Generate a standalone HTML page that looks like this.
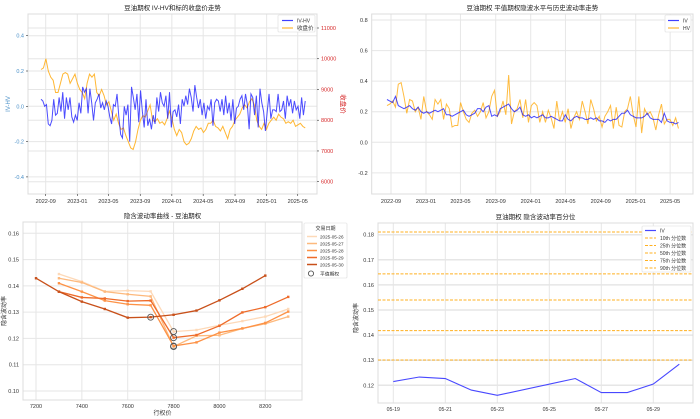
<!DOCTYPE html>
<html><head><meta charset="utf-8">
<style>
html,body{margin:0;padding:0;background:#fff;}
svg{display:block;font-family:"Liberation Sans","Noto Sans CJK SC",sans-serif;}
</style></head>
<body>
<svg id="chart" width="700" height="419" viewBox="0 0 700 419"></svg>
<script>
// ---------- Panel 1 data ----------
const p1Start = [2022, 8, 14];
const p1End = [2025, 5, 30];
const ivhv = [0.04,0.03,0.0,0.01,-0.1,-0.11,-0.08,0.04,-0.05,-0.04,0.05,-0.03,0.08,-0.07,0.05,-0.02,0.05,-0.06,-0.09,-0.05,-0.08,0.02,-0.04,0.11,0.08,0.1,-0.04,0.1,0.02,-0.08,0.02,0.04,0.07,-0.01,0.02,-0.02,0.03,0.0,-0.06,-0.1,0.01,0.0,0.07,-0.06,-0.16,-0.18,0.0,-0.05,0.01,-0.2,0.11,0.05,-0.02,0.07,-0.09,0.09,-0.03,-0.12,0.04,-0.11,-0.07,-0.13,-0.05,-0.1,0.05,-0.03,0.08,0.02,0.0,0.06,-0.07,0.08,-0.12,-0.03,-0.02,-0.06,0.01,-0.1,0.04,0.0,0.06,0.01,0.1,0.05,-0.03,0.12,0.05,-0.01,0.04,-0.05,0.02,-0.07,0.0,-0.02,0.04,-0.11,0.02,0.04,0.03,-0.03,0.04,-0.05,0.06,-0.04,0.02,-0.08,0.04,-0.1,-0.01,0.0,0.04,0.06,-0.02,0.07,0.01,-0.13,0.07,0.05,-0.05,0.06,-0.12,0.1,0.02,-0.03,-0.14,-0.03,0.07,-0.07,-0.02,-0.02,-0.03,0.07,-0.03,-0.02,0.03,-0.07,0.06,0.0,0.04,-0.04,0.03,-0.02,0.0,-0.07,0.05,-0.05,0.03];
const closePrice = [9650,9700,10000,9600,9400,9300,8900,8900,9200,9500,9550,9500,9200,9350,9500,9200,9000,8900,8700,9200,9500,9400,9500,8900,8800,9000,8800,8500,8600,8300,8000,8200,7900,7700,7750,7500,7300,7100,7050,7300,7700,8000,8150,8100,8300,8500,8000,7950,8050,7900,7950,7850,8050,8300,8050,7700,7500,7700,7600,7300,7200,7250,7400,7650,7800,7700,7750,7600,7700,7900,7900,8000,7800,7750,7650,7800,7600,7400,7700,7800,8000,8100,8200,8400,8500,8400,8600,8700,8500,8000,7800,7700,7900,7700,7900,8000,8100,8000,8200,8100,8050,7900,7950,7900,8000,7800,7850,7900,7800,7750];
const p1LeftTicks = [-0.4,-0.2,0.0,0.2,0.4];
const p1RightTicks = [6000,7000,8000,9000,10000,11000];
const dateTicks = ["2022-09","2023-01","2023-05","2023-09","2024-01","2024-05","2024-09","2025-01","2025-05"];

// ---------- Panel 2 data ----------
const ivSeries = [0.28,0.27,0.26,0.30,0.24,0.23,0.22,0.23,0.24,0.22,0.21,0.23,0.2,0.19,0.2,0.19,0.2,0.21,0.2,0.21,0.22,0.18,0.18,0.17,0.18,0.19,0.2,0.21,0.18,0.17,0.18,0.19,0.22,0.22,0.2,0.23,0.24,0.17,0.18,0.17,0.22,0.23,0.24,0.25,0.22,0.2,0.21,0.23,0.18,0.17,0.18,0.16,0.17,0.16,0.17,0.18,0.16,0.16,0.17,0.16,0.15,0.14,0.14,0.18,0.15,0.14,0.16,0.17,0.16,0.16,0.15,0.15,0.16,0.15,0.16,0.14,0.14,0.13,0.15,0.14,0.15,0.15,0.17,0.19,0.19,0.21,0.18,0.17,0.16,0.16,0.16,0.17,0.19,0.16,0.15,0.15,0.15,0.13,0.19,0.14,0.13,0.13,0.12,0.13];
const hvSeries = [0.24,0.25,0.27,0.23,0.38,0.39,0.3,0.19,0.28,0.27,0.2,0.23,0.15,0.3,0.2,0.18,0.15,0.28,0.25,0.28,0.15,0.25,0.22,0.1,0.11,0.11,0.26,0.2,0.15,0.13,0.19,0.21,0.17,0.2,0.26,0.16,0.2,0.3,0.34,0.17,0.2,0.27,0.18,0.44,0.12,0.2,0.22,0.28,0.16,0.28,0.13,0.24,0.26,0.24,0.13,0.2,0.13,0.21,0.16,0.09,0.27,0.14,0.2,0.13,0.22,0.09,0.16,0.2,0.15,0.27,0.2,0.12,0.28,0.22,0.14,0.17,0.1,0.17,0.2,0.24,0.09,0.23,0.11,0.1,0.2,0.22,0.3,0.18,0.1,0.3,0.06,0.22,0.18,0.2,0.16,0.08,0.18,0.25,0.12,0.15,0.15,0.11,0.16,0.09];
const p2Ticks = [-0.2,0.0,0.2,0.4,0.6,0.8];

// ---------- Panel 3 data ----------
const strikes = [7200,7300,7400,7500,7600,7700,7800,7900,8000,8100,8200,8300];
const smileDates = ["2025-05-26","2025-05-27","2025-05-28","2025-05-29","2025-05-30"];
const smile0526 = [null,0.1445,0.1416,0.1379,0.1382,0.1379,0.1226,0.1232,0.125,0.1266,0.1283,0.1312];
const smile0527 = [null,0.1429,0.1413,0.1378,0.1368,0.136,0.1169,0.121,0.1212,0.1238,0.1256,0.1283];
const smile0528 = [null,0.141,0.1378,0.1344,0.133,0.1326,0.1171,0.1185,0.1222,0.1238,0.1259,0.1302];
const smile0529 = [null,0.1378,0.1356,0.1352,0.1342,0.1344,0.1203,0.1213,0.1248,0.1299,0.1319,0.1358];
const smile0530 = [0.1429,0.1378,0.134,0.1312,0.1279,0.1281,0.129,0.1306,0.1345,0.1389,0.1439,null];
const atmStrikes = [7800,7800,7800,7800,7700];
const atmIV = [0.1226,0.1169,0.1171,0.1203,0.1281];
const p3YTicks = [0.10,0.11,0.12,0.13,0.14,0.15,0.16];
const p3XTicks = [7200,7400,7600,7800,8000,8200];

// ---------- Panel 4 data ----------
const ivDays = [19,20,21,22,23,26,27,28,29,30];
const ivValues = [0.1215,0.1233,0.1227,0.1181,0.116,0.1227,0.1171,0.1171,0.1205,0.1284];
const pctLabels = ["10th","25th","50th","75th","90th"];
const pctValues = [0.1301,0.1418,0.154,0.1644,0.1811];
const p4YTicks = [0.12,0.13,0.14,0.15,0.16,0.17,0.18];
const p4XTicks = [19,21,23,25,27,29];

const NS = "http://www.w3.org/2000/svg";
const svg = document.getElementById("chart");
function mk(tag, attrs, parent) {
  const e = document.createElementNS(NS, tag);
  for (const k in attrs) e.setAttribute(k, attrs[k]);
  (parent || svg).appendChild(e);
  return e;
}
function txt(s, x, y, size, fill, anchor, parent, extra) {
  const t = mk("text", Object.assign({x: x, y: y, "font-size": size, fill: fill, "text-anchor": anchor}, extra || {}), parent);
  t.textContent = s;
  return t;
}
function lin(d0, d1, r0, r1) { return v => r0 + (v - d0) / (d1 - d0) * (r1 - r0); }
function day(y, m, d) { return Date.UTC(y, m - 1, d) / 86400000; }
function pathFrom(xs, ys) {
  let d = ""; let pen = false;
  for (let i = 0; i < xs.length; i++) {
    if (ys[i] === null || ys[i] === undefined) { pen = false; continue; }
    d += (pen ? "L" : "M") + xs[i].toFixed(2) + "," + ys[i].toFixed(2);
    pen = true;
  }
  return d;
}
const GRID = "#e6e6e6", FRAME = "#dcdcdc", TICKC = "#333";

function frame(g, x0, y0, x1, y1) {
  const r = mk("rect", {x: x0, y: y0, width: x1 - x0, height: y1 - y0, fill: "none", stroke: FRAME, "stroke-width": 1}, g);
  
  
}
function hgrid(g, ys, x0, x1, w) {
  ys.forEach(y => {
    const l = mk("line", {x1: x0, x2: x1, y1: y, y2: y, stroke: GRID, "stroke-width": w || 1}, g);
    
    
  });
}
function vgrid(g, xs, y0, y1) {
  xs.forEach(x => {
    const l = mk("line", {x1: x, x2: x, y1: y0, y2: y1, stroke: GRID, "stroke-width": 1}, g);
    
    
  });
}
function dateX(label, sx) { const p = label.split("-"); return sx(day(+p[0], +p[1], 1)); }

// ================= PANEL 1 =================
(function () {
  const g = mk("g", {});
  
  
  const X0 = 28, X1 = 317, Y0 = 14, Y1 = 194;
  const sx = lin(day(2022, 9, 1), day(2023, 1, 1), 45.7, 77.3);
  const sy = lin(0, 0.4, 106.3, 35.7);
  const sr = lin(6000, 11000, 181.7, 28);
  hgrid(g, p1LeftTicks.map(sy), X0, X1);
  hgrid(g, p1RightTicks.map(sr), X0, X1);
  vgrid(g, dateTicks.map(l => dateX(l, sx)), Y0, Y1);
  frame(g, X0, Y0, X1, Y1);
  const t = txt("豆油期权 IV-HV和标的收盘价走势", (X0 + X1) / 2, 10, 6.5, "#222", "middle", g);
   
  const d0 = day(...p1Start), d1 = day(...p1End);
  const xsA = ivhv.map((v, i) => sx(d0 + (d1 - d0) * i / (ivhv.length - 1)));
  const xsB = closePrice.map((v, i) => sx(d0 + (d1 - d0) * i / (closePrice.length - 1)));
  const pr = mk("path", {d: pathFrom(xsB, closePrice.map(sr)), fill: "none", stroke: "#ffa500", "stroke-opacity": 0.8, "stroke-width": 1}, g);
   
  const iv = mk("path", {d: pathFrom(xsA, ivhv.map(sy)), fill: "none", stroke: "#0000ff", "stroke-opacity": 0.7, "stroke-width": 1}, g);
   
  p1LeftTicks.forEach(v => {
    const y = sy(v);
    mk("line", {x1: X0 - 2, x2: X0, y1: y, y2: y, stroke: TICKC, "stroke-width": 0.6}, g);
    const l = txt(v.toFixed(1), X0 - 4, y + 2, 5.5, "#4a90c8", "end", g);
     
  });
  p1RightTicks.forEach(v => {
    const y = sr(v);
    mk("line", {x1: X1, x2: X1 + 2, y1: y, y2: y, stroke: TICKC, "stroke-width": 0.6}, g);
    const l = txt(String(v), X1 + 4, y + 2, 5.5, "#d62728", "start", g);
     
  });
  dateTicks.forEach(s => {
    const x = dateX(s, sx);
    mk("line", {x1: x, x2: x, y1: Y1, y2: Y1 + 2, stroke: TICKC, "stroke-width": 0.6}, g);
    const l = txt(s, x, Y1 + 9, 5.5, "#333", "middle", g);
     
  });
  const yl = txt("IV-HV", 10, 104, 6, "#4a90c8", "middle", g, {transform: "rotate(-90 10 104)"});
   
  const yr = txt("收盘价", 341, 104, 6.5, "#d62728", "middle", g, {transform: "rotate(90 341 104)"});
   
  const lg = mk("g", {}, g);
   
  mk("rect", {x: 278, y: 15, width: 37, height: 17, fill: "#fff", stroke: "#ddd", "stroke-width": 0.6, rx: 1}, lg);
  mk("line", {x1: 282, x2: 293, y1: 20.5, y2: 20.5, stroke: "#4040ff", "stroke-width": 1.2}, lg);
  txt("IV-HV", 297, 22.5, 5, "#333", "start", lg);
  mk("line", {x1: 282, x2: 293, y1: 28, y2: 28, stroke: "#ffb733", "stroke-width": 1.2}, lg);
  txt("收盘价", 297, 30, 5.5, "#333", "start", lg);
})();

// ================= PANEL 2 =================
(function () {
  const g = mk("g", {});
  
  
  const X0 = 371.7, X1 = 693, Y0 = 14, Y1 = 194;
  const sx = lin(day(2022, 9, 1), day(2023, 1, 1), 391, 426);
  const sy = lin(0, 0.8, 142.3, 20);
  hgrid(g, p2Ticks.map(sy), X0, X1);
  vgrid(g, dateTicks.map(l => dateX(l, sx)), Y0, Y1);
  frame(g, X0, Y0, X1, Y1);
  const t = txt("豆油期权 平值期权隐波水平与历史波动率走势", (X0 + X1) / 2, 10, 6.5, "#222", "middle", g);
   
  const d0 = day(2022, 8, 18), d1 = day(2025, 5, 30);
  const xsH = hvSeries.map((v, i) => sx(d0 + (d1 - d0) * i / (hvSeries.length - 1)));
  const xsI = ivSeries.map((v, i) => sx(d0 + (d1 - d0) * i / (ivSeries.length - 1)));
  const hv = mk("path", {d: pathFrom(xsH, hvSeries.map(sy)), fill: "none", stroke: "#ffa500", "stroke-opacity": 0.75, "stroke-width": 1}, g);
   
  const iv = mk("path", {d: pathFrom(xsI, ivSeries.map(sy)), fill: "none", stroke: "#0000ff", "stroke-opacity": 0.7, "stroke-width": 1}, g);
   
  p2Ticks.forEach(v => {
    const y = sy(v);
    const l = txt(v.toFixed(1), X0 - 4, y + 2, 5.5, "#333", "end", g);
     
  });
  dateTicks.forEach(s => {
    const l = txt(s, dateX(s, sx), Y1 + 9, 5.5, "#333", "middle", g);
     
  });
  const lg = mk("g", {}, g);
   
  mk("rect", {x: 665, y: 15, width: 26, height: 17, fill: "#fff", stroke: "#ddd", "stroke-width": 0.6, rx: 1}, lg);
  mk("line", {x1: 668, x2: 679, y1: 20.5, y2: 20.5, stroke: "#4040ff", "stroke-width": 1.2}, lg);
  txt("IV", 683, 22.5, 5, "#333", "start", lg);
  mk("line", {x1: 668, x2: 679, y1: 28, y2: 28, stroke: "#ffb733", "stroke-width": 1.2}, lg);
  txt("HV", 683, 30, 5, "#333", "start", lg);
})();

// ================= PANEL 3 =================
(function () {
  const g = mk("g", {});
  
  
  const X0 = 23, X1 = 302, Y0 = 222, Y1 = 400;
  const sx = lin(7200, 8200, 36, 265.3);
  const sy = lin(0.10, 0.16, 391, 233.3);
  hgrid(g, p3YTicks.map(sy), X0, X1);
  vgrid(g, p3XTicks.map(sx), Y0, Y1);
  frame(g, X0, Y0, X1, Y1);
  const t = txt("隐含波动率曲线 - 豆油期权", (X0 + X1) / 2, 218, 6.5, "#222", "middle", g);
   
  const series = [smile0526, smile0527, smile0528, smile0529, smile0530];
  const colors = ["#fdd9b8", "#fdb97d", "#fd9246", "#ee6b2a", "#c8501a"];
  const names = ["smile-2025-05-26", "smile-2025-05-27", "smile-2025-05-28", "smile-2025-05-29", "smile-2025-05-30"];
  series.forEach((s, k) => {
    const xs = strikes.map(sx);
    const ys = s.map(v => v === null ? null : sy(v));
    const p = mk("path", {d: pathFrom(xs, ys), fill: "none", stroke: colors[k], "stroke-width": 1.3}, g);
    
    
    s.forEach((v, i) => {
      if (v === null) return;
      const m = mk("rect", {x: xs[i] - 1.2, y: ys[i] - 1.2, width: 2.4, height: 2.4, fill: colors[k]}, g);
      
      
    });
  });
  atmStrikes.forEach((k, i) => {
    const c = mk("circle", {cx: sx(k), cy: sy(atmIV[i]), r: 3, fill: "none", stroke: "#555", "stroke-width": 0.9}, g);
    
    
  });
  p3YTicks.forEach(v => {
    const l = txt(v.toFixed(2), X0 - 4, sy(v) + 2, 5.5, "#333", "end", g);
     
  });
  p3XTicks.forEach(v => {
    const l = txt(String(v), sx(v), Y1 + 8, 5.5, "#333", "middle", g);
     
  });
  const xl = txt("行权价", (X0 + X1) / 2, 415, 6, "#333", "middle", g);
   
  const yl = txt("隐含波动率", 6, 311, 6, "#333", "middle", g, {transform: "rotate(-90 6 311)"});
   
  const lg = mk("g", {}, g);
   
  mk("rect", {x: 304, y: 223, width: 43, height: 55, fill: "#fff", stroke: "#ddd", "stroke-width": 0.6, rx: 1}, lg);
  txt("交易日期", 325.5, 230, 5, "#333", "middle", lg);
  smileDates.forEach((d, k) => {
    const y = 236.5 + k * 7;
    mk("line", {x1: 307, x2: 317, y1: y, y2: y, stroke: colors[k], "stroke-width": 1.5}, lg);
    txt(d, 320, y + 1.8, 4.6, "#333", "start", lg);
  });
  mk("circle", {cx: 311, cy: 273.5, r: 2.6, fill: "none", stroke: "#555", "stroke-width": 0.9}, lg);
  txt("平值期权", 320, 275.5, 4.8, "#333", "start", lg);
})();

// ================= PANEL 4 =================
(function () {
  const g = mk("g", {});
  
  
  const X0 = 378, X1 = 693, Y0 = 223, Y1 = 403;
  const sx = lin(19, 29, 393.3, 653.3);
  const sy = lin(0.12, 0.18, 385.3, 234.7);
  hgrid(g, p4YTicks.map(sy), X0, X1, 1.5);
  vgrid(g, p4XTicks.map(sx), Y0, Y1);
  frame(g, X0, Y0, X1, Y1);
  const t = txt("豆油期权 隐含波动率百分位", (X0 + X1) / 2, 219, 6.5, "#222", "middle", g);
   
  pctValues.forEach((v, i) => {
    const l = mk("line", {x1: X0, x2: X1, y1: sy(v), y2: sy(v), stroke: "#ffb020", "stroke-width": 1, "stroke-dasharray": "3,1.5"}, g);
    
    
  });
  const p = mk("path", {d: pathFrom(ivDays.map(sx), ivValues.map(sy)), fill: "none", stroke: "#4848ff", "stroke-width": 1.1}, g);
   
  p4YTicks.forEach(v => {
    const l = txt(v.toFixed(2), X0 - 4, sy(v) + 2, 5.5, "#333", "end", g);
     
  });
  p4XTicks.forEach(v => {
    const l = txt("05-" + v, sx(v), Y1 + 8, 5.2, "#333", "middle", g);
     
  });
  const yl = txt("隐含波动率", 358, 318, 6, "#333", "middle", g, {transform: "rotate(-90 358 318)"});
   
  const lg = mk("g", {}, g);
   
  mk("rect", {x: 642, y: 226, width: 49, height: 46, fill: "#fff", stroke: "#ddd", "stroke-width": 0.6, rx: 1}, lg);
  mk("line", {x1: 645, x2: 656, y1: 230.5, y2: 230.5, stroke: "#4848ff", "stroke-width": 1.2}, lg);
  txt("IV", 660, 232.5, 5, "#333", "start", lg);
  pctLabels.forEach((s, i) => {
    const y = 238 + i * 7.5;
    mk("line", {x1: 645, x2: 656, y1: y, y2: y, stroke: "#ffb020", "stroke-width": 1, "stroke-dasharray": "3,1.5"}, lg);
    txt(s + " 分位数", 660, y + 2, 5, "#333", "start", lg);
  });
})();
</script>
</body></html>
